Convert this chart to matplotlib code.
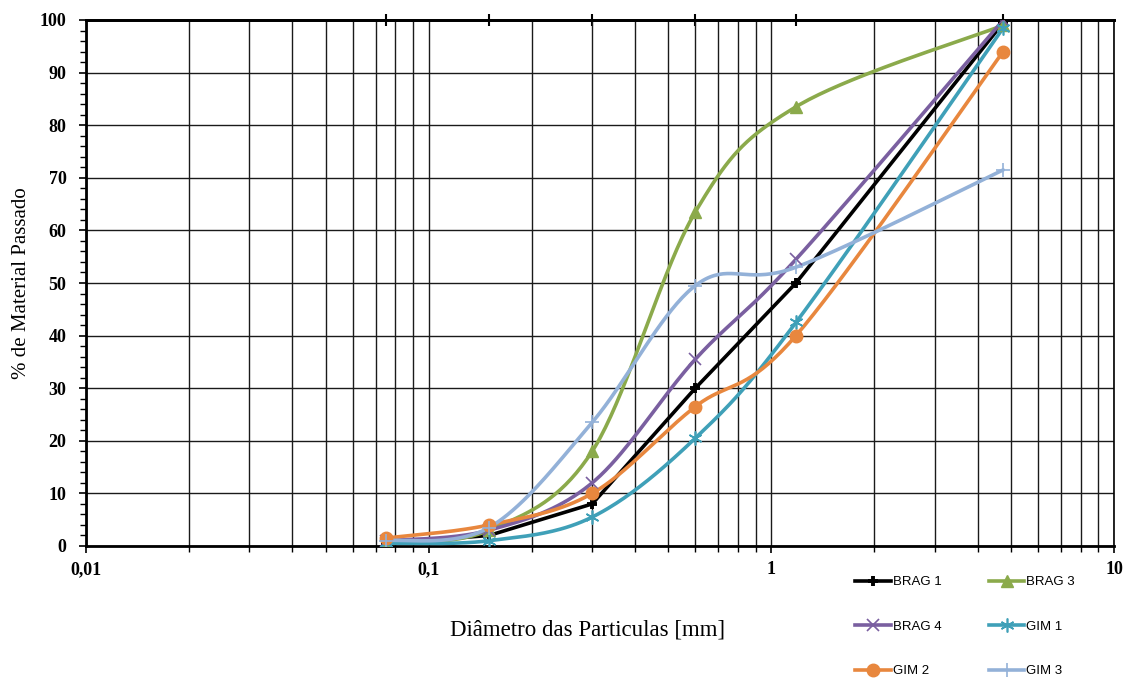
import numpy as np
import matplotlib
matplotlib.use("Agg")
import matplotlib.pyplot as plt
from matplotlib.ticker import FixedLocator, NullFormatter, MultipleLocator

sizes = [0.075, 0.15, 0.3, 0.6, 1.18, 4.75]
brag1 = [0.5, 2.0, 8.0, 30.0, 50.0, 99.5]
brag3 = [0.5, 3.0, 18.0, 63.5, 83.5, 99.0]
brag4 = [1.0, 3.0, 12.0, 35.5, 54.5, 100.0]
gim1 = [0.5, 1.0, 5.5, 20.5, 42.5, 98.5]
gim2 = [1.5, 4.0, 10.0, 26.5, 40.0, 94.0]
gim3 = [1.0, 3.5, 23.5, 49.5, 53.0, 71.5]
xtick_vals = [0.01, 0.1, 1, 10]
xtick_labels = ["0,01", "0,1", "1", "10"]

series = [
    ("BRAG 1", brag1, "#000000", dict(marker="+", ms=7, mew=2.8), False),
    ("BRAG 3", brag3, "#8BAA4B", dict(marker="^", ms=8), True),
    ("BRAG 4", brag4, "#7A5FA0", dict(marker="x", ms=9, mew=1.2), True),
    ("GIM 1", gim1, "#3FA0B8", dict(marker=(6, 2, 0), ms=10, mew=1.2), True),
    ("GIM 2", gim2, "#E8873E", dict(marker="o", ms=9), True),
    ("GIM 3", gim3, "#93B1D8", dict(marker="+", ms=10, mew=1.2), True),
]

SX, SY = 342.7, 5.26  # screen scale used for Excel-like smoothing


def smooth(xs, ys, n=40):
    u = np.log10(np.asarray(xs, float)) * SX
    v = np.asarray(ys, float) * SY
    P = np.column_stack([u, v])
    P = np.vstack([P[0], P, P[-1]])
    out = []
    for i in range(1, len(P) - 2):
        p0, p1, p2, p3 = P[i - 1], P[i], P[i + 1], P[i + 2]
        c1 = p1 + (p2 - p0) / 6.0
        c2 = p2 - (p3 - p1) / 6.0
        t = np.linspace(0, 1, n)[:, None]
        b = ((1 - t) ** 3) * p1 + 3 * ((1 - t) ** 2) * t * c1 + 3 * (1 - t) * t ** 2 * c2 + t ** 3 * p2
        out.append(b if i == 1 else b[1:])
    B = np.vstack(out)
    return 10 ** (B[:, 0] / SX), B[:, 1] / SY


fig = plt.figure(figsize=(11.28, 6.8), dpi=100)
ax = fig.add_axes([86 / 1128, 1 - 546 / 680, (1114 - 86) / 1128, (546 - 20) / 680])
ax.set_xscale("log")
ax.set_xlim(0.01, 10)
ax.set_ylim(0, 100)

handles = {}
for name, ys, col, mk, sm in series:
    if sm:
        xs_, ys_ = smooth(sizes, ys)
    else:
        xs_, ys_ = sizes, ys
    ax.plot(xs_, ys_, color=col, lw=2.6, zorder=3, solid_capstyle="round")
    ax.plot(sizes, ys, color=col, lw=0, zorder=4, markeredgecolor=col, markerfacecolor=col, **mk)
    h, = ax.plot([], [], color=col, lw=2.6, markeredgecolor=col, markerfacecolor=col, **mk)
    h.set_label(name)
    handles[name] = h

tick_font = {"family": "Liberation Serif", "weight": "bold", "size": 13}
ax.set_xticks(xtick_vals)
ax.set_xticklabels(xtick_labels, fontdict=tick_font)
ax.xaxis.set_minor_locator(FixedLocator([m * 10.0 ** e for e in (-2, -1, 0) for m in range(2, 10)]))
ax.xaxis.set_minor_formatter(NullFormatter())
yt = list(range(0, 101, 10))
ax.set_yticks(yt)
ax.set_yticklabels([str(v) for v in yt], fontdict=tick_font)
ax.yaxis.set_minor_locator(MultipleLocator(2))
ax.grid(True, which="major", axis="both", color="#1a1a1a", lw=1.0, zorder=1)
ax.grid(True, which="minor", axis="x", color="#1a1a1a", lw=1.0, zorder=1)

ax.tick_params(axis="both", which="major", direction="out", length=5, width=1.2, color="black")
ax.tick_params(axis="both", which="minor", direction="out", length=4, width=1.0, color="black")
ax.tick_params(axis="x", which="major", pad=6)
ax.tick_params(axis="y", which="major", pad=9)

for s in ["left", "bottom", "top"]:
    ax.spines[s].set_linewidth(2.0)
ax.spines["right"].set_linewidth(1.2)

sec = ax.secondary_xaxis("top")
sec.set_xticks(sizes)
sec.set_xticklabels([])
sec.xaxis.set_minor_locator(FixedLocator([]))
sec.tick_params(axis="x", which="major", direction="inout", length=9, width=1.5, color="black")
sec.spines["top"].set_linewidth(2.0)

fig.text(588 / 1128, 1 - 630 / 680, "Diâmetro das Particulas [mm]", ha="center", va="center",
         fontfamily="Liberation Serif", fontsize=16.5)
fig.text(22 / 1128, 1 - 283 / 680, "% de Material Passado", ha="center", va="center", rotation=90,
         fontfamily="Liberation Serif", fontsize=15)

order = ["BRAG 1", "BRAG 4", "GIM 2", "BRAG 3", "GIM 1", "GIM 3"]
leg = fig.legend(handles=[handles[k] for k in order], loc="upper left",
                 bbox_to_anchor=(855 / 1128, 1 - 576 / 680),
                 ncol=2, frameon=False, borderpad=0, borderaxespad=0,
                 handlelength=2.7, handletextpad=0.15, columnspacing=3.6, labelspacing=2.45,
                 prop={"family": "Liberation Sans", "size": 9.5})
fig.savefig("out.png", dpi=100)
